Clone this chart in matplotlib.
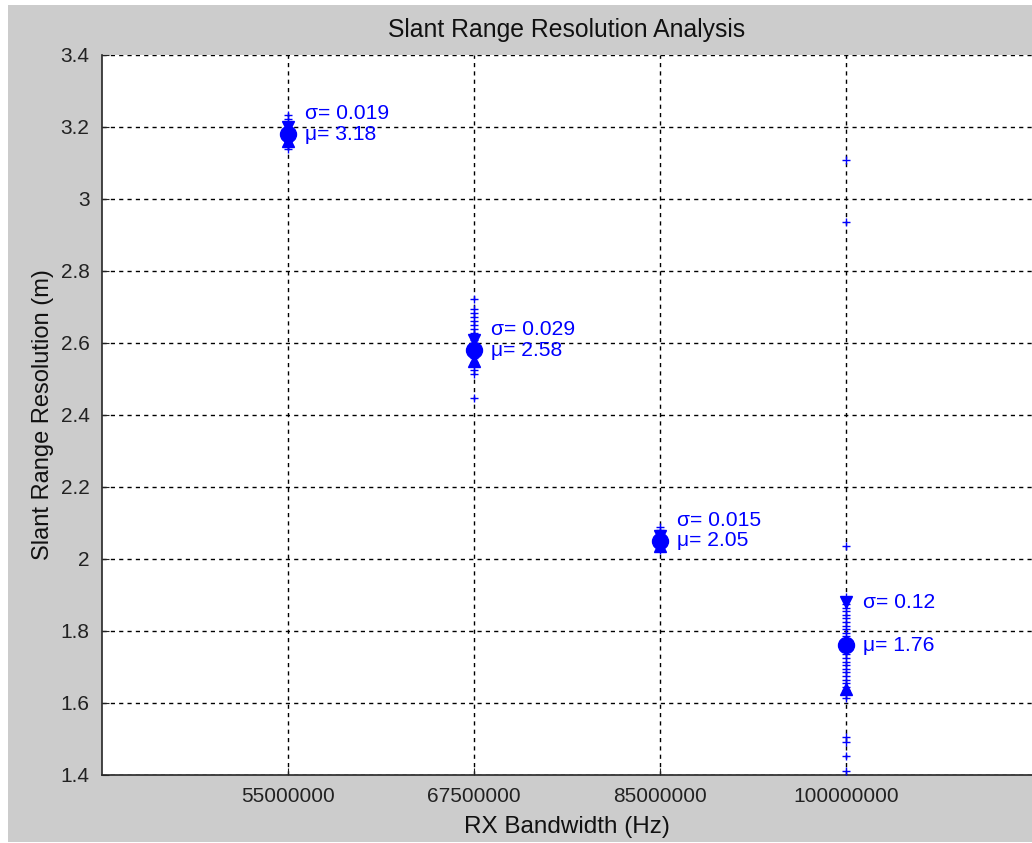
import numpy as np
import matplotlib.pyplot as plt
from matplotlib.patches import Rectangle

plt.rcParams['font.family'] = ['Liberation Sans', 'DejaVu Sans']

# RX bandwidths (Hz), drawn at equally spaced category positions
bandwidth_labels = ['55000000', '67500000', '85000000', '100000000']

# individual slant range resolution measurements (m) per bandwidth
res_55 = [3.232, 3.222, 3.214, 3.205, 3.200, 3.196, 3.192, 3.189, 3.186, 3.184,
          3.182, 3.180, 3.178, 3.176, 3.174, 3.171, 3.168, 3.165, 3.161, 3.157,
          3.152, 3.146, 3.140]
res_675 = [2.722, 2.694, 2.683, 2.672, 2.661, 2.650, 2.639, 2.628, 2.622, 2.615,
           2.608, 2.600, 2.594, 2.588, 2.582, 2.576, 2.570, 2.566, 2.558, 2.547,
           2.536, 2.525, 2.514, 2.447]
res_85 = [2.088, 2.080, 2.072, 2.066, 2.060, 2.056, 2.052, 2.048, 2.044, 2.040,
          2.035, 2.030, 2.024]
res_100 = [3.108, 2.936, 2.036, 1.895, 1.885, 1.875, 1.865, 1.855, 1.845, 1.835,
           1.825, 1.815, 1.805, 1.795, 1.785, 1.775, 1.765, 1.755, 1.745, 1.735,
           1.725, 1.715, 1.705, 1.695, 1.685, 1.675, 1.665, 1.655, 1.645, 1.635,
           1.625, 1.615, 1.505, 1.492, 1.452, 1.410]

# statistics shown in the annotations
mu = [3.18, 2.58, 2.05, 1.76]
sigma = [0.019, 0.029, 0.015, 0.12]
mu_txt = ['3.18', '2.58', '2.05', '1.76']
sigma_txt = ['0.019', '0.029', '0.015', '0.12']

yticks = [1.4, 1.6, 1.8, 2.0, 2.2, 2.4, 2.6, 2.8, 3.0, 3.2, 3.4]
ytick_labels = ['1.4', '1.6', '1.8', '2', '2.2', '2.4', '2.6', '2.8', '3', '3.2', '3.4']

W, H = 1032, 843
fig = plt.figure(figsize=(W / 100, H / 100), dpi=100, facecolor='white')
# matlab grey window background (small white strip top/left as in screenshot)
fig.patches.append(Rectangle((8 / W, 1 / H), 1, (H - 6) / H, transform=fig.transFigure,
                             facecolor='#cccccc', edgecolor='none', zorder=-10))

ax = fig.add_axes([102 / W, 68 / H, 930 / W, 720 / H])
ax.set_facecolor('white')

blue = '#0000ff'
groups = [res_55, res_675, res_85, res_100]
for i, vals in enumerate(groups):
    xpos = i + 1
    ax.plot([xpos] * len(vals), vals, '+', color=blue, ms=6, mew=1.0, zorder=3)
    ax.plot(xpos, mu[i], 'o', color=blue, ms=11.5, zorder=4)
    ax.plot(xpos, mu[i] + sigma[i], 'v', color=blue, ms=8.5, zorder=4)
    ax.plot(xpos, mu[i] - sigma[i], '^', color=blue, ms=8.5, zorder=4)
    ax.text(xpos + 0.09, mu[i] + max(sigma[i], 0.058), '\u03c3= ' + sigma_txt[i],
            color=blue, fontsize=15.2, va='center', ha='left', zorder=5)
    ax.text(xpos + 0.09, mu[i], '\u03bc= ' + mu_txt[i],
            color=blue, fontsize=15.2, va='center', ha='left', zorder=5)

ax.set_xlim(0, 5)
ax.set_ylim(1.4, 3.4)
ax.set_xticks([1, 2, 3, 4])
ax.set_xticklabels(bandwidth_labels)
ax.set_yticks(yticks)
ax.set_yticklabels(ytick_labels)
ax.tick_params(direction='in', length=5, labelsize=15, colors='#222222', pad=9)

ax.grid(True, color='black', linestyle=(0, (3, 3)), linewidth=1.0)
ax.set_axisbelow(True)
for s in ['top', 'right']:
    ax.spines[s].set_visible(False)
for s in ['left', 'bottom']:
    ax.spines[s].set_color('#262626')
    ax.spines[s].set_linewidth(1.2)

ax.set_title('Slant Range Resolution Analysis', fontsize=17.8, color='#111111', pad=13)
ax.set_xlabel('RX Bandwidth (Hz)', fontsize=17.5, color='#111111', labelpad=7)
ax.set_ylabel('Slant Range Resolution (m)', fontsize=17, color='#111111', labelpad=5)

fig.savefig('out.png', dpi=100, facecolor=fig.get_facecolor())
